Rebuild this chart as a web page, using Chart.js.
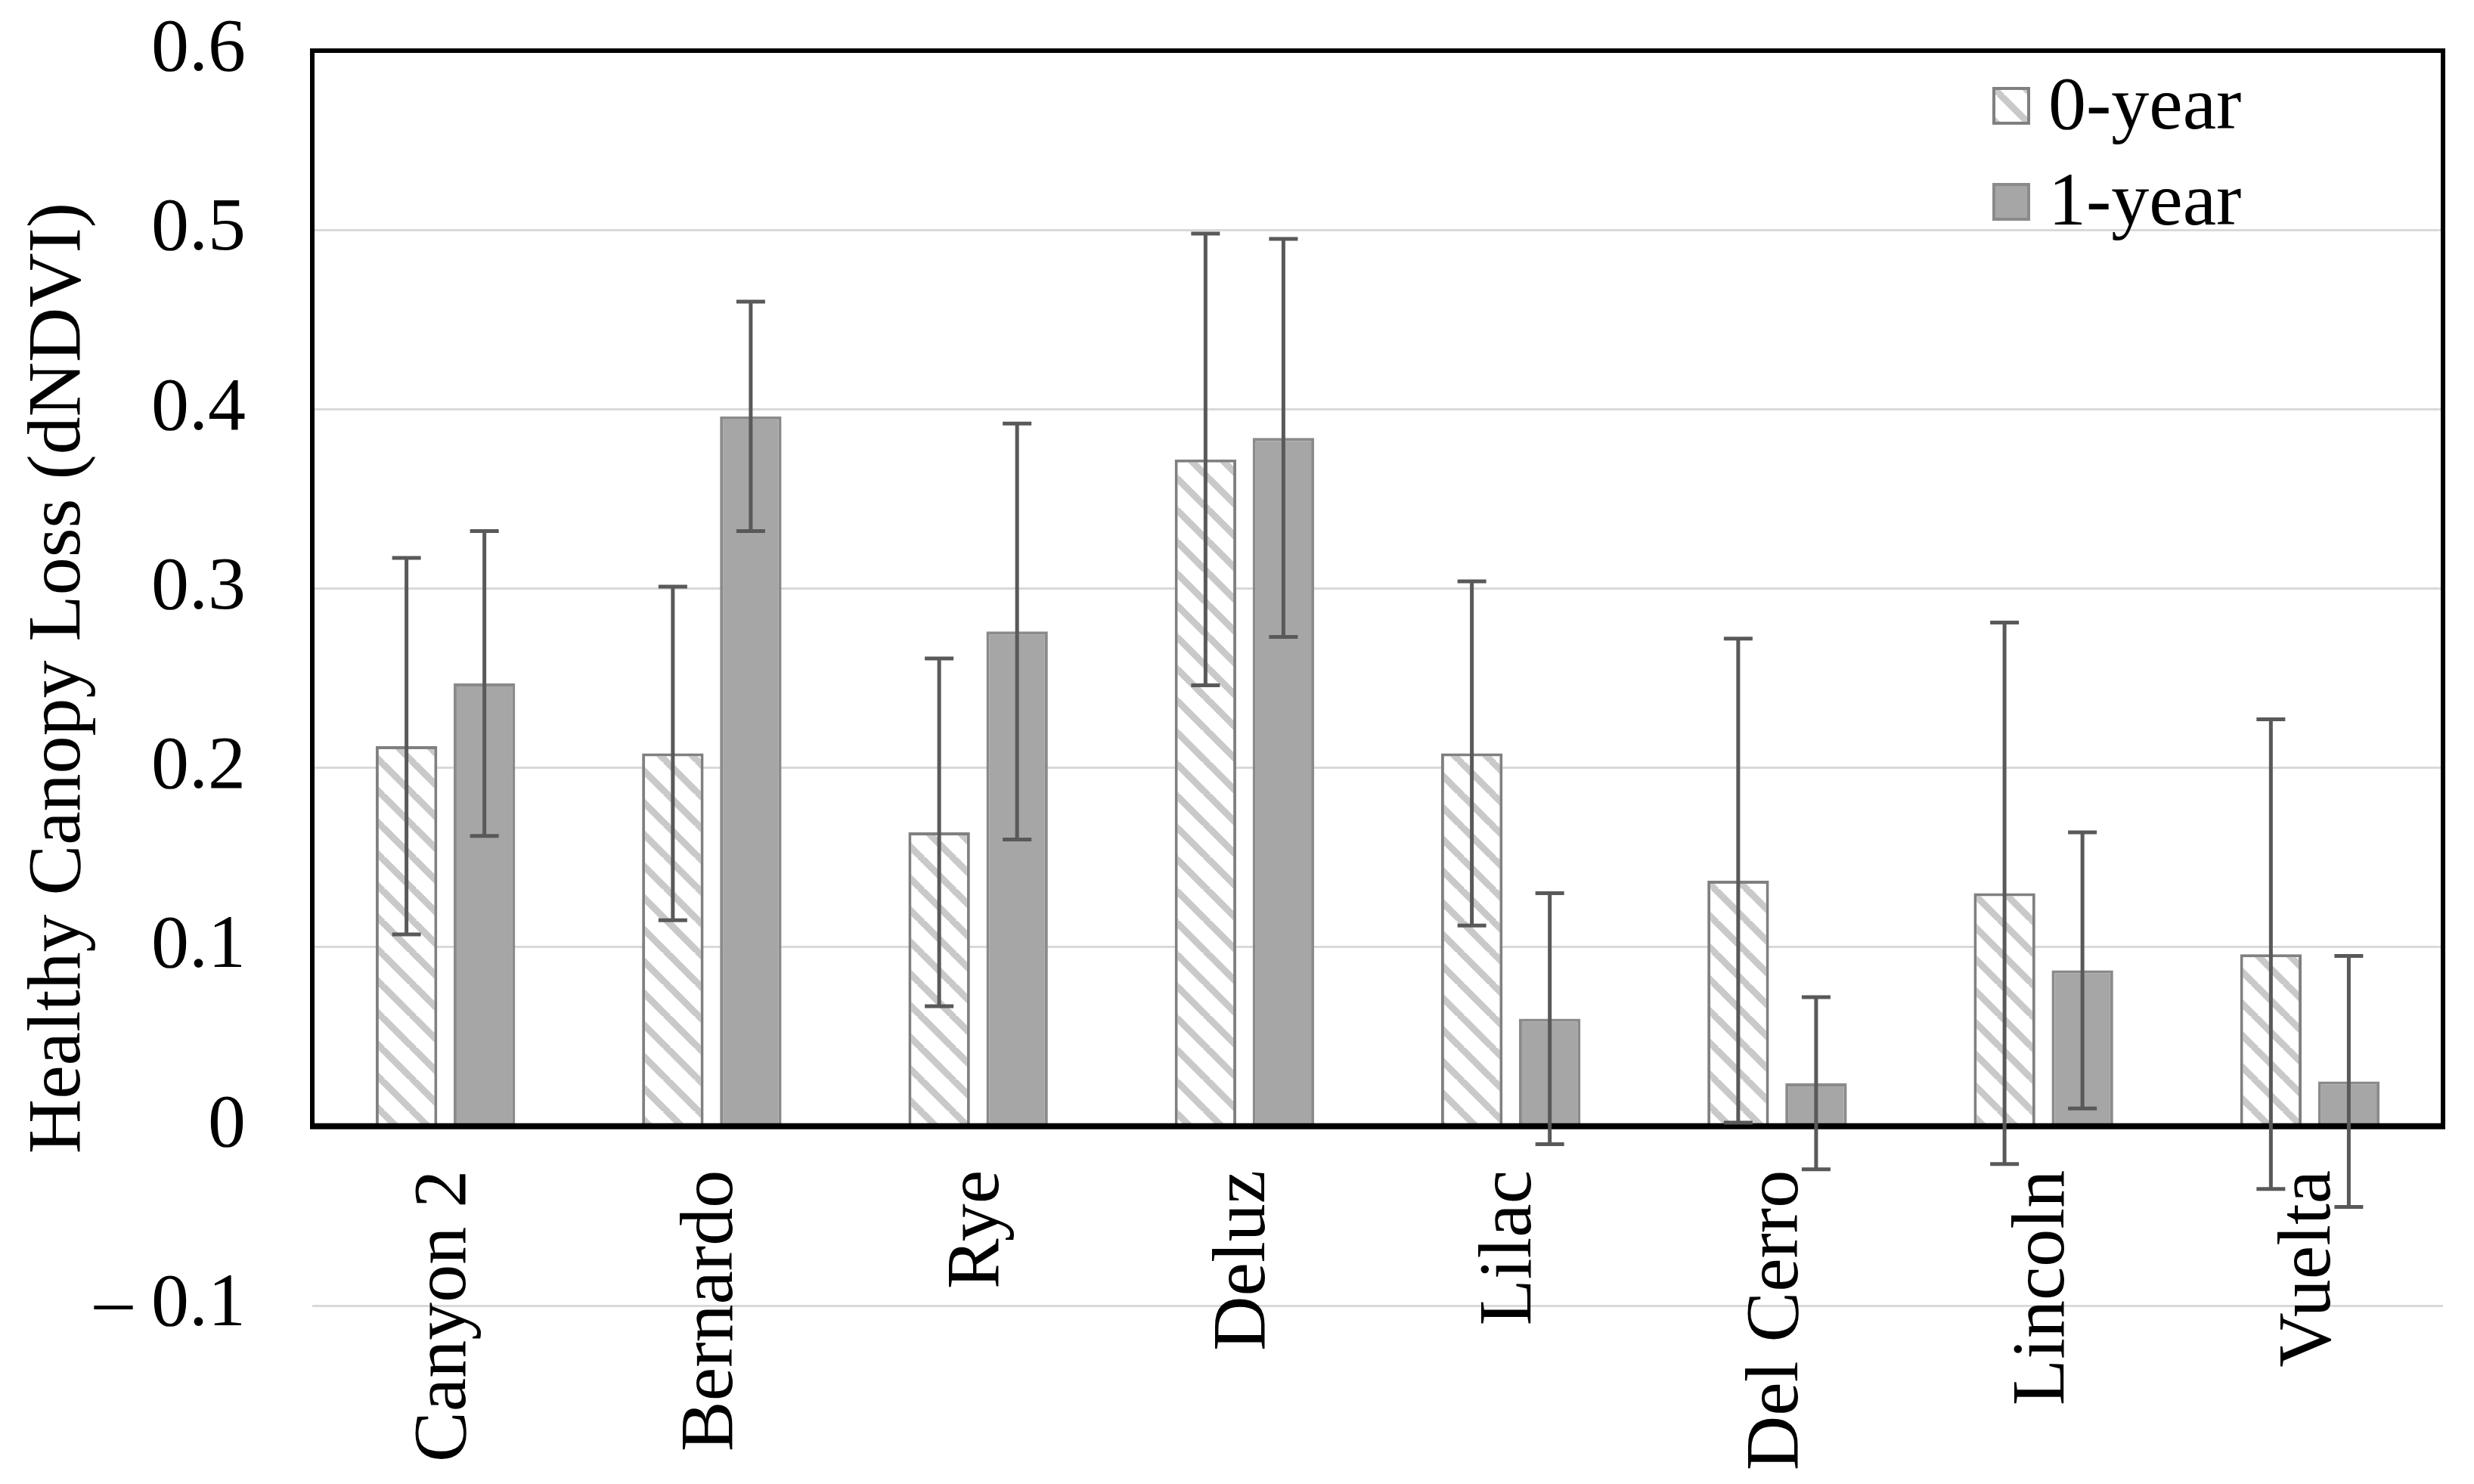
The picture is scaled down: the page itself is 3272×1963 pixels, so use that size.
<!DOCTYPE html>
<html>
<head>
<meta charset="utf-8">
<script src="https://cdn.jsdelivr.net/npm/chart.js@4.4.1/dist/chart.umd.min.js"></script>
<style>
  html, body { margin: 0; padding: 0; background: #ffffff; }
  #wrap { width: 3272px; height: 1963px; position: relative; }
</style>
</head>
<body>
<div id="wrap"><canvas id="c"></canvas></div>
<script>
const categories = ['Canyon 2', 'Bernardo', 'Rye', 'Deluz', 'Lilac', 'Del Cerro', 'Lincoln', 'Vuelta'];
const seriesNames = ['0-year', '1-year'];
const year0 = [0.212, 0.208, 0.164, 0.372, 0.208, 0.137, 0.130, 0.096];
const year0Err = [0.105, 0.093, 0.097, 0.126, 0.096, 0.135, 0.151, 0.131];
const year1 = [0.247, 0.396, 0.276, 0.384, 0.060, 0.024, 0.087, 0.025];
const year1Err = [0.085, 0.064, 0.116, 0.111, 0.070, 0.048, 0.077, 0.070];
const yTicks = [-0.1, 0, 0.1, 0.2, 0.3, 0.4, 0.5, 0.6];
const yTitle = 'Healthy Canopy Loss (dNDVI)';

const FONT = 'Liberation Serif';

function makeHatch() {
  const s = 42;
  const c = document.createElement('canvas');
  c.width = s; c.height = s;
  const g = c.getContext('2d');
  g.fillStyle = '#ffffff';
  g.fillRect(0, 0, s, s);
  g.strokeStyle = '#c9c9c9';
  g.lineWidth = 9;
  for (let k = -1; k <= 1; k++) {
    g.beginPath();
    g.moveTo(k * s - 2, -2);
    g.lineTo(k * s + s + 2, s + 2);
    g.stroke();
  }
  return g.createPattern(c, 'repeat');
}
const hatch = makeHatch();

const errors = [year0Err, year1Err];

const errorBarPlugin = {
  id: 'errorBars',
  afterDatasetsDraw(chart) {
    const ctx = chart.ctx;
    const yScale = chart.scales.y;
    ctx.save();
    ctx.strokeStyle = '#595959';
    ctx.lineWidth = 5;
    chart.data.datasets.forEach((ds, i) => {
      const meta = chart.getDatasetMeta(i);
      meta.data.forEach((el, j) => {
        const v = ds.data[j];
        const e = errors[i][j];
        const x = el.x;
        const yt = yScale.getPixelForValue(v + e);
        const yb = yScale.getPixelForValue(v - e);
        const cap = 19;
        ctx.beginPath();
        ctx.moveTo(x, yt); ctx.lineTo(x, yb);
        ctx.moveTo(x - cap, yt); ctx.lineTo(x + cap, yt);
        ctx.moveTo(x - cap, yb); ctx.lineTo(x + cap, yb);
        ctx.stroke();
      });
    });
    ctx.restore();
  }
};

const boxPlugin = {
  id: 'plotBox',
  afterDatasetsDraw(chart) {
    const ctx = chart.ctx;
    const a = chart.chartArea;
    const y0 = chart.scales.y.getPixelForValue(0);
    ctx.save();
    ctx.strokeStyle = '#000000';
    ctx.lineWidth = 6;
    ctx.beginPath();
    ctx.moveTo(a.left, y0);
    ctx.lineTo(a.left, a.top);
    ctx.lineTo(a.right, a.top);
    ctx.lineTo(a.right, y0);
    ctx.stroke();
    ctx.lineWidth = 8;
    ctx.beginPath();
    ctx.moveTo(a.left - 3, y0);
    ctx.lineTo(a.right + 3, y0);
    ctx.stroke();
    ctx.restore();
  }
};

const legendPlugin = {
  id: 'insideLegend',
  afterDraw(chart) {
    const ctx = chart.ctx;
    const a = chart.chartArea;
    const x0 = a.right - 596;
    const ys = [a.top + 73, a.top + 200];
    const sz = 50;
    ctx.save();
    chart.data.datasets.forEach((ds, i) => {
      const cy = ys[i];
      ctx.fillStyle = ds.backgroundColor;
      ctx.fillRect(x0, cy - sz / 2, sz, sz);
      ctx.strokeStyle = ds.borderColor;
      ctx.lineWidth = 4;
      ctx.strokeRect(x0 + 2, cy - sz / 2 + 2, sz - 4, sz - 4);
      ctx.fillStyle = '#000000';
      ctx.font = '100px "' + FONT + '"';
      ctx.textBaseline = 'middle';
      ctx.textAlign = 'left';
      ctx.fillText(ds.label, x0 + 74, cy + 4);
    });
    ctx.restore();
  }
};

new Chart(document.getElementById('c'), {
  type: 'bar',
  data: {
    labels: categories,
    datasets: [
      {
        label: seriesNames[0],
        data: year0,
        backgroundColor: hatch,
        borderColor: '#808080',
        borderWidth: 4,
        categoryPercentage: 0.585,
        barPercentage: 0.79
      },
      {
        label: seriesNames[1],
        data: year1,
        backgroundColor: '#a6a6a6',
        borderColor: '#8a8a8a',
        borderWidth: 4,
        categoryPercentage: 0.585,
        barPercentage: 0.79
      }
    ]
  },
  options: {
    responsive: true,
    maintainAspectRatio: false,
    animation: false,
    layout: { padding: { top: 67, right: 41, bottom: 236, left: 0 } },
    plugins: {
      legend: { display: false },
      tooltip: { enabled: false }
    },
    scales: {
      x: {
        position: { y: 0 },
        grid: { display: false, drawTicks: false },
        border: { display: false },
        ticks: {
          autoSkip: false,
          minRotation: 90,
          maxRotation: 90,
          padding: 58,
          color: '#000000',
          font: { family: FONT, size: 100 }
        }
      },
      y: {
        min: -0.1,
        max: 0.6,
        afterFit(scale) { scale.width = 413; },
        afterBuildTicks(scale) { scale.ticks = yTicks.map(v => ({ value: v })); },
        border: { display: false },
        grid: { color: '#d9d9d9', lineWidth: 3, drawTicks: true, tickLength: 88, tickColor: 'rgba(0,0,0,0)' },
        ticks: {
          padding: 0,
          color: '#000000',
          font: { family: FONT, size: 100 },
          callback(v) {
            const r = Math.round(v * 10) / 10;
            if (r === 0) return '0';
            if (r < 0) return '\u2013 ' + Math.abs(r).toFixed(1);
            return r.toFixed(1);
          }
        },
        title: {
          display: true,
          text: yTitle,
          color: '#000000',
          font: { family: FONT, size: 100, lineHeight: 1.2 },
          padding: { top: 19, bottom: 0 }
        }
      }
    }
  },
  plugins: [boxPlugin, errorBarPlugin, legendPlugin]
});
</script>
</body>
</html>
